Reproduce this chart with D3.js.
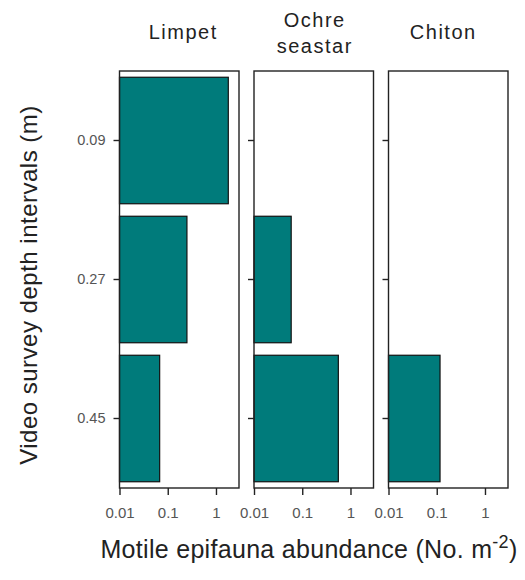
<!DOCTYPE html>
<html>
<head>
<meta charset="utf-8">
<script src="https://cdn.jsdelivr.net/npm/d3@7"></script>
<style>
  body { margin: 0; background: #fff; }
  text { font-family: "Liberation Sans", Arial, sans-serif; }
</style>
</head>
<body>
<svg id="chart" width="525" height="580"></svg>
<script>
// depth interval categories (y) and abundance per taxon (x, log scale)
var depths = ["0.09", "0.27", "0.45"];
var taxa = ["Limpet", "Ochre seastar", "Chiton"];
var limpet = [1.8, 0.25, 0.068];
var ochre = [null, 0.059, 0.56];
var chiton = [null, null, 0.117];
var xTicks = [0.01, 0.1, 1];
var xTickLabels = ["0.01", "0.1", "1"];

var series = [limpet, ochre, chiton];

var svg = d3.select("#chart");

var plotTop = 71, plotBottom = 488;
var panelW = 119.5, panelStep = 134.5, left0 = 119.5;
var titleShift = [4, 1, -5];

var y = d3.scaleBand()
    .domain(depths)
    .range([plotTop, plotBottom])
    .paddingInner(0.09)
    .paddingOuter(0.045);

taxa.forEach(function(name, i) {
    var x0 = left0 + i * panelStep;
    var x = d3.scaleLog()
        .domain([0.01, 3])
        .range([x0, x0 + panelW]);

    var g = svg.append("g");

    // bars
    g.selectAll("rect.bar")
        .data(series[i].map(function(v, j) { return {d: depths[j], v: v}; }).filter(function(d) { return d.v != null; }))
        .enter()
        .append("rect")
        .attr("class", "bar")
        .attr("x", x(0.01))
        .attr("y", function(d) { return y(d.d); })
        .attr("width", function(d) { return x(d.v) - x(0.01); })
        .attr("height", y.bandwidth())
        .attr("fill", "#007b7b")
        .attr("stroke", "#111")
        .attr("stroke-width", 1.2);

    // frame
    g.append("rect")
        .attr("x", x0)
        .attr("y", plotTop)
        .attr("width", panelW)
        .attr("height", plotBottom - plotTop)
        .attr("fill", "none")
        .attr("stroke", "#222")
        .attr("stroke-width", 1.4);

    // y axis ticks
    var yAxis = d3.axisLeft(y).tickSize(6).tickSizeOuter(0)
        .tickFormat(i === 0 ? null : "");
    var ya = g.append("g")
        .attr("transform", "translate(" + x0 + ",0)")
        .call(yAxis);
    ya.select(".domain").remove();
    ya.selectAll("line").attr("stroke", "#222").attr("stroke-width", 1.4);
    ya.selectAll("text")
        .attr("x", -14)
        .attr("fill", "#555")
        .style("font-size", "14.5px");

    // x axis
    var xAxis = d3.axisBottom(x)
        .tickValues(xTicks)
        .tickFormat(function(d, k) { return xTickLabels[k]; })
        .tickSize(7)
        .tickSizeOuter(0);
    var xa = g.append("g")
        .attr("transform", "translate(0," + plotBottom + ")")
        .call(xAxis);
    xa.select(".domain").remove();
    xa.selectAll("line").attr("stroke", "#222").attr("stroke-width", 1.4);
    xa.selectAll("text")
        .attr("y", 19)
        .attr("fill", "#555")
        .style("font-size", "15px");

    // panel title
    var cx = x0 + panelW / 2 + titleShift[i];
    var words = name.split(" ");
    var title = g.append("text")
        .attr("text-anchor", "middle")
        .attr("fill", "#222")
        .style("font-size", "20px")
        .style("letter-spacing", "1.5px");
    if (words.length === 1) {
        title.append("tspan").attr("x", cx).attr("y", 39).text(name);
    } else {
        title.append("tspan").attr("x", cx).attr("y", 27).text(words[0]);
        title.append("tspan").attr("x", cx).attr("y", 53).text(words[1]);
    }
});

// axis titles
svg.append("text")
    .attr("transform", "translate(37,285) rotate(-90)")
    .attr("text-anchor", "middle")
    .attr("fill", "#222")
    .style("font-size", "24px")
    .style("letter-spacing", "0.5px")
    .text("Video survey depth intervals (m)");

var xt = svg.append("text")
    .attr("x", 309)
    .attr("y", 558)
    .attr("text-anchor", "middle")
    .attr("fill", "#222")
    .style("font-size", "25px")
    .style("letter-spacing", "0.3px");
xt.append("tspan").text("Motile epifauna abundance (No. m");
xt.append("tspan").attr("dy", -10).style("font-size", "18px").text("-2");
xt.append("tspan").attr("dy", 10).text(")");
</script>
</body>
</html>
